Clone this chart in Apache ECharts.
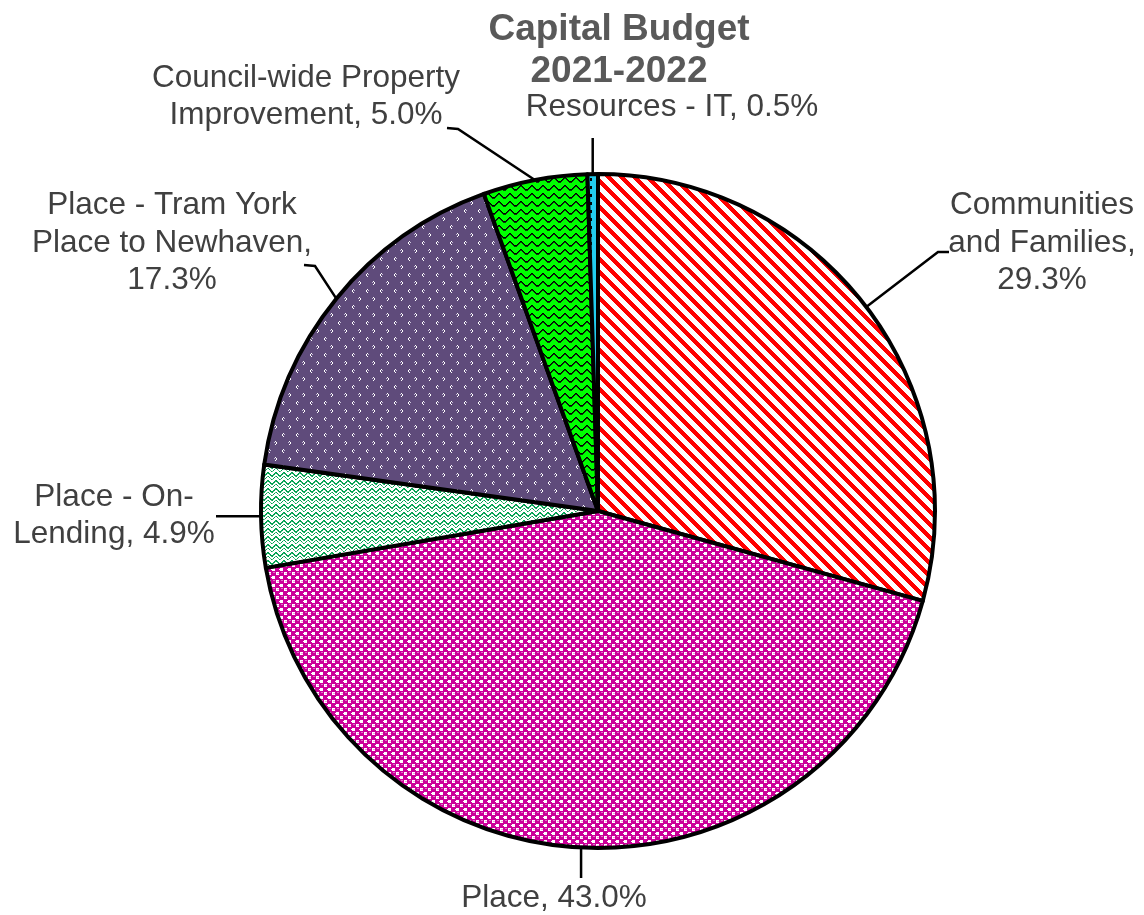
<!DOCTYPE html>
<html>
<head>
<meta charset="utf-8">
<title>Capital Budget 2021-2022</title>
<script src="https://cdn.jsdelivr.net/npm/echarts@6/dist/echarts.min.js"></script>
<style>
  html, body { margin: 0; padding: 0; background: #ffffff; }
  #chart { width: 1144px; height: 915px; }
</style>
</head>
<body>
<div id="chart"></div>
<script>
// Capital budget split by service area, percent of total
const categories = [
  'Communities and Families',
  'Place',
  'Place - On-Lending',
  'Place - Tram York Place to Newhaven',
  'Council-wide Property Improvement',
  'Resources - IT'
];
const shares = [29.3, 43.0, 4.9, 17.3, 5.0, 0.5];
// Label text with its line breaks; {v} is replaced by the share
const labelTemplates = [
  'Communities\nand Families,\n{v}',
  'Place, {v}',
  'Place - On-\nLending, {v}',
  'Place - Tram York\nPlace to Newhaven,\n{v}',
  'Council-wide Property\nImprovement, {v}',
  'Resources - IT, {v}'
];
const titleLines = ['Capital Budget', '2021-2022'];

// ---------- layout ----------
const PIE_CX = 598, PIE_CY = 511, PIE_R = 337;
// label centre and leader-line knee / end for each slice (null = keep the edge coordinate)
const labelSpots = [
  { x: 1042, y: 243, knee: [938, 252], end: [949, 252] },
  { x: 554,  y: 898, knee: [null, 866], end: [null, 878] },
  { x: 114,  y: 516, knee: [240, null], end: [216, null] },
  { x: 172,  y: 243, knee: [315, 266], end: [304, 265] },
  { x: 306,  y: 97,  knee: [458, 129], end: [447, 128] },
  { x: 672,  y: 107, knee: [null, 152], end: [null, 138] }
];

// ---------- fill patterns ----------
function makeTile(w, h, bg, paint) {
  const c = document.createElement('canvas');
  c.width = w; c.height = h;
  const g = c.getContext('2d');
  g.fillStyle = bg;
  g.fillRect(0, 0, w, h);
  paint(g, w, h);
  return c;
}
function dot(g, color, x, y, w, h) {
  g.fillStyle = color;
  g.fillRect(x, y, w || 1, h || 1);
}

// red wide downward diagonal stripes
const stripeTile = makeTile(13, 13, '#ffffff', (g, w, h) => {
  for (let y = 0; y < h; y++) {
    for (let x = 0; x < w; x++) {
      if ((((x - y) % w) + w) % w < 6) dot(g, '#ff0000', x, y);
    }
  }
});

// magenta checker
const checkTile = makeTile(8, 8, '#cc0099', (g) => {
  dot(g, '#ffffff', 0, 0, 3, 3);
  dot(g, '#ffffff', 4, 4, 3, 3);
  dot(g, '#ffffff', 7, 1, 1, 1);
  dot(g, '#f0a0dc', 5, 5, 2, 1);
  dot(g, '#e070c8', 1, 4, 2, 1);
});

// green dotted zigzag on white
const zigTile = makeTile(8, 8, '#ffffff', (g) => {
  const rows = [3, 2, 1, 0, 0, 1, 2, 3];
  for (let x = 0; x < 8; x++) {
    dot(g, '#00a050', x, rows[x]);
    dot(g, x % 2 ? '#40b878' : '#00a050', x, rows[x] + 1);
    dot(g, x % 3 ? '#00a050' : '#60c48c', x, rows[x] + 4);
  }
});

// purple with small white marks
const markTile = makeTile(14, 16, '#5f4b7b', (g) => {
  const w = '#ffffff';
  dot(g, w, 3, 1); dot(g, w, 2, 2); dot(g, w, 2, 3); dot(g, w, 3, 4);
  dot(g, '#c8c0d8', 4, 2);
  dot(g, w, 9, 9); dot(g, w, 10, 10); dot(g, w, 10, 11); dot(g, w, 9, 12);
  dot(g, '#c8c0d8', 8, 10);
});

// bright green with black wave lines
const waveTile = makeTile(11, 8, '#00ff00', (g) => {
  const ys = [4, 3, 2, 1, 1, 2, 3, 4, 5, 5, 5];
  const yy = [4, 3, 2, 1, 0, 1, 2, 3, 4, 5, 5];
  for (let x = 0; x < 11; x++) {
    const y = Math.round((ys[x] + yy[x]) / 2);
    dot(g, '#000000', x, y);
    dot(g, '#0a3a0a', x, y + 1);
  }
});

// cyan with short black dashes
const dashTile = makeTile(6, 8, '#22ccee', (g) => {
  dot(g, '#000000', 2, 2, 2, 3);
});

const fills = [stripeTile, checkTile, zigTile, markTile, waveTile, dashTile];

// ---------- chart ----------
const chart = echarts.init(document.getElementById('chart'), null, { renderer: 'canvas' });

const pieData = categories.map((name, i) => ({
  name: name,
  value: shares[i],
  itemStyle: { color: { image: fills[i], repeat: 'repeat' } },
  label: { formatter: labelTemplates[i].replace('{v}', shares[i].toFixed(1) + '%') }
}));

chart.setOption({
  animation: false,
  backgroundColor: '#ffffff',
  title: {
    text: titleLines.join('\n'),
    left: 619,
    top: 9,
    textAlign: 'center',
    padding: 0,
    textStyle: {
      fontFamily: '"Liberation Sans", Arial, sans-serif',
      fontSize: 37,
      fontWeight: 'bold',
      color: '#595959',
      lineHeight: 42
    }
  },
  series: [{
    type: 'pie',
    center: [PIE_CX, PIE_CY],
    radius: PIE_R,
    startAngle: 90,
    clockwise: true,
    avoidLabelOverlap: false,
    emphasis: { disabled: true },
    itemStyle: { borderColor: '#000000', borderWidth: 4 },
    label: {
      show: true,
      position: 'outside',
      fontFamily: '"Liberation Sans", Arial, sans-serif',
      fontSize: 31.5,
      lineHeight: 37.5,
      color: '#404040',
      align: 'center'
    },
    labelLine: {
      show: true,
      length: 20,
      length2: 10,
      lineStyle: { color: '#000000', width: 2.5 }
    },
    labelLayout: function (params) {
      const spot = labelSpots[params.dataIndex];
      const edge = params.labelLinePoints ? params.labelLinePoints[0] : [PIE_CX, PIE_CY];
      const pick = (p) => [p[0] == null ? edge[0] : p[0], p[1] == null ? edge[1] : p[1]];
      return {
        x: spot.x,
        y: spot.y,
        align: 'center',
        verticalAlign: 'middle',
        labelLinePoints: [edge.slice(), pick(spot.knee), pick(spot.end)]
      };
    },
    data: pieData
  }]
});
</script>
</body>
</html>
